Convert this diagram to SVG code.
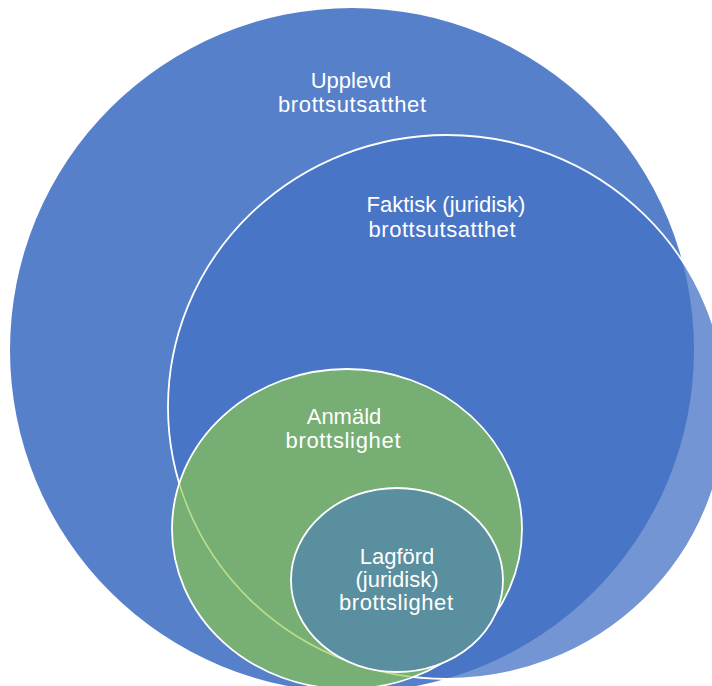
<svg xmlns="http://www.w3.org/2000/svg" width="712" height="686" viewBox="0 0 712 686">
  <style>
    .lbl { font-family: "Liberation Sans", Arial, sans-serif; font-size: 22px; fill: #ffffff; text-anchor: middle; }
    .ring { stroke: #ffffff; stroke-width: 1.8; }
  </style>
  <defs>
    <clipPath id="clipGreen">
      <ellipse cx="347" cy="529" rx="174" ry="159"/>
    </clipPath>
  </defs>
  <rect width="712" height="686" fill="#ffffff"/>

  <g id="upplevd">
    <circle cx="352" cy="350" r="342" fill="#4472C4" fill-opacity="0.9"/>
    <text class="lbl" x="351" y="88">Upplevd</text>
    <text class="lbl" x="352" y="112" textLength="148" lengthAdjust="spacing">brottsutsatthet</text>
  </g>

  <g id="faktisk">
    <ellipse class="ring" cx="447" cy="407" rx="279" ry="272" fill="#4472C4" fill-opacity="0.75"/>
    <text class="lbl" x="446" y="212">Faktisk (juridisk)</text>
    <text class="lbl" x="442" y="237" textLength="147" lengthAdjust="spacing">brottsutsatthet</text>
  </g>

  <g id="anmald">
    <ellipse cx="347" cy="529" rx="175" ry="160" fill="#7AB36E" fill-opacity="0.93"/>
    <ellipse cx="447" cy="407" rx="279" ry="272" fill="none" stroke="#BADC8C" stroke-width="1.6" clip-path="url(#clipGreen)"/>
    <ellipse class="ring" cx="347" cy="529" rx="175" ry="160" fill="none"/>
    <text class="lbl" x="344" y="424">Anmäld</text>
    <text class="lbl" x="343" y="448" textLength="115" lengthAdjust="spacing">brottslighet</text>
  </g>

  <g id="lagford">
    <ellipse class="ring" cx="397" cy="580" rx="106" ry="92" fill="#5A8FA0"/>
    <text class="lbl" x="397" y="564">Lagförd</text>
    <text class="lbl" x="397" y="587">(juridisk)</text>
    <text class="lbl" x="396" y="610" textLength="114" lengthAdjust="spacing">brottslighet</text>
  </g>

  <g id="connectors"></g>
</svg>
